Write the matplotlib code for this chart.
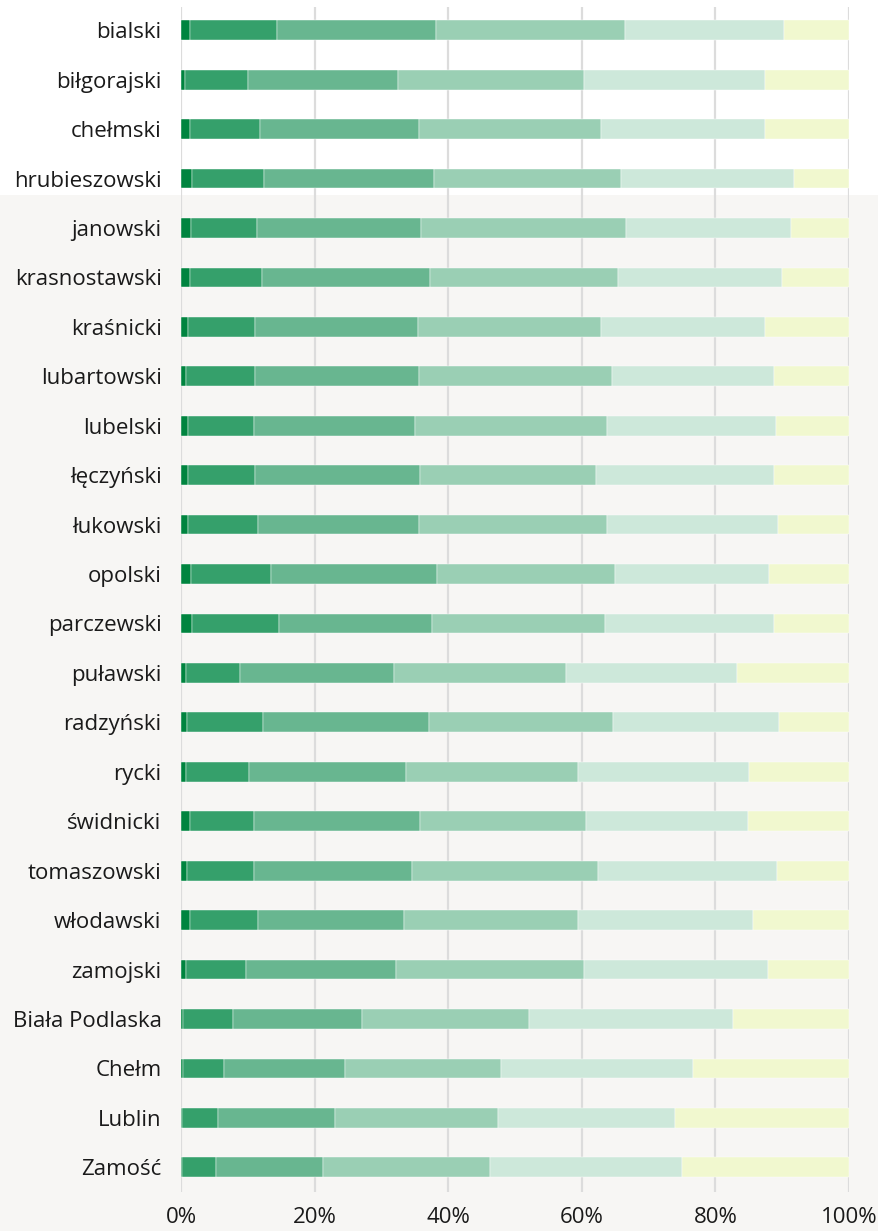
import numpy as np
import matplotlib.pyplot as plt
from matplotlib.patches import Rectangle

plt.rcParams['font.family'] = ['Open Sans', 'DejaVu Sans']

# powiaty / miasta
labels = ['bialski', 'biłgorajski', 'chełmski', 'hrubieszowski', 'janowski',
          'krasnostawski', 'kraśnicki', 'lubartowski', 'lubelski', 'łęczyński',
          'łukowski', 'opolski', 'parczewski', 'puławski', 'radzyński', 'rycki',
          'świdnicki', 'tomaszowski', 'włodawski', 'zamojski', 'Biała Podlaska',
          'Chełm', 'Lublin', 'Zamość']

# udział (%) kolejnych przedziałów, od najciemniejszego do najjaśniejszego
s1 = [1.4, 0.6, 1.4, 1.7, 1.5, 1.4, 1.1, 0.8, 1.1, 1.1, 1.1, 1.5, 1.7, 0.7,
      0.9, 0.8, 1.3, 0.9, 1.4, 0.8, 0.3, 0.3, 0.1, 0.1]
s2 = [12.9, 9.5, 10.5, 10.8, 9.9, 10.7, 10.0, 10.3, 9.8, 10.0, 10.5, 11.9,
      13.0, 8.2, 11.4, 9.4, 9.6, 10.0, 10.2, 8.9, 7.5, 6.2, 5.4, 5.1]
s3 = [23.9, 22.4, 23.7, 25.4, 24.5, 25.2, 24.4, 24.5, 24.1, 24.7, 24.0, 24.9,
      22.9, 23.0, 24.9, 23.5, 24.9, 23.7, 21.8, 22.5, 19.3, 18.1, 17.6, 16.0]
s4 = [28.2, 27.8, 27.2, 27.9, 30.7, 28.1, 27.3, 28.9, 28.7, 26.3, 28.1, 26.7,
      25.9, 25.7, 27.4, 25.8, 24.8, 27.8, 26.0, 28.1, 25.0, 23.3, 24.3, 25.0]
s5 = [23.9, 27.1, 24.7, 26.0, 24.7, 24.5, 24.7, 24.2, 25.4, 26.6, 25.6, 23.0,
      25.2, 25.7, 24.9, 25.5, 24.3, 26.8, 26.2, 27.5, 30.5, 28.8, 26.6, 28.8]
s6 = [9.7, 12.6, 12.5, 8.2, 8.7, 10.1, 12.5, 11.3, 10.9, 11.3, 10.7, 12.0,
      11.3, 16.7, 10.5, 15.0, 15.1, 10.8, 14.4, 12.2, 17.4, 23.3, 26.0, 25.0]

colors = ['#00843f', '#35a06b', '#68b690', '#9acfb4', '#cde8da', '#f1f8cf']

fig = plt.figure(figsize=(8.79, 12.31), dpi=100)
# jasnoszare tło od piątego wiersza w dół
fig.patches.append(Rectangle((0, 0), 1, 1 - 195 / 1231, transform=fig.transFigure,
                             facecolor='#f7f6f4', edgecolor='none', zorder=-1))

ax = fig.add_axes([181 / 879, 1 - 1192 / 1231, 668 / 879, 1185 / 1231])
ax.set_facecolor('none')

y = np.arange(len(labels))
left = np.zeros(len(labels))
for vals, c in zip([s1, s2, s3, s4, s5, s6], colors):
    vals = np.array(vals)
    ax.barh(y, vals, left=left, height=0.4, color=c, edgecolor='white',
            linewidth=0.3, zorder=3)
    left += vals

ax.set_xlim(0, 100)
ax.set_ylim(len(labels) - 0.5, -0.47)
ax.set_xticks([0, 20, 40, 60, 80, 100])
ax.set_xticklabels(['0%', '20%', '40%', '60%', '80%', '100%'])
ax.set_yticks(y)
ax.set_yticklabels(labels)
ax.grid(axis='x', color='#dcdcdc', linewidth=1.6, zorder=1)
ax.tick_params(axis='both', length=0, labelsize=16, colors='#1a1a1a')
ax.tick_params(axis='y', pad=14)
ax.tick_params(axis='x', pad=11)
for sp in ax.spines.values():
    sp.set_visible(False)

fig.savefig('out.png', dpi=100)
